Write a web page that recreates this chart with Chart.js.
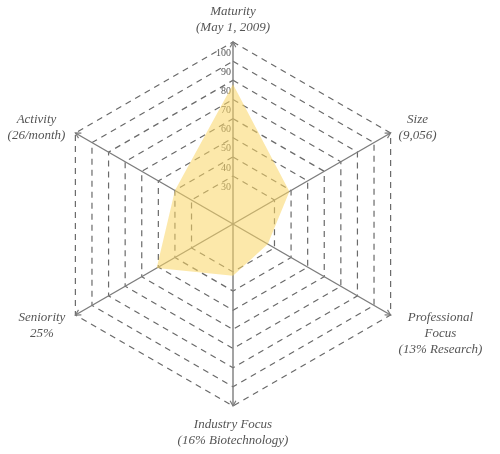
<!DOCTYPE html>
<html>
<head>
<meta charset="utf-8">
<script src="https://cdn.jsdelivr.net/npm/chart.js@4"></script>
<style>
  html, body { margin: 0; padding: 0; background: #fff; }
  canvas { display: block; }
</style>
</head>
<body>
<canvas id="radar" width="500" height="454"></canvas>
<script>
// axes, clockwise from the top
const axisLabels = [
    ['Maturity', '(May 1, 2009)'],
    ['Size', '(9,056)'],
    ['Professional', 'Focus', '(13% Research)'],
    ['Industry Focus', '(16% Biotechnology)'],
    ['Seniority', '25%'],
    ['Activity', '(26/month)']
];
const scores = [78, 39, 26, 32, 51, 40];
const tickValues = [20, 30, 40, 50, 60, 70, 80, 90, 100];

const GREY = '#7c7c7c';
const TEXT = '#555555';

// tick numbers sit just left of the vertical axis, under the fill
const tickLabelPlugin = {
    id: 'tickLabels',
    beforeDatasetsDraw(chart) {
        const scale = chart.scales.r;
        const ctx = chart.ctx;
        ctx.save();
        ctx.font = '10px "Liberation Serif", serif';
        ctx.fillStyle = TEXT;
        ctx.textAlign = 'right';
        ctx.textBaseline = 'middle';
        tickValues.slice(1).forEach(function(v) {
            const p = scale.getPointPositionForValue(0, v);
            ctx.fillText(String(v), p.x - 2, p.y + 11);
        });
        ctx.restore();
    },
    afterDraw(chart) {
        const scale = chart.scales.r;
        const ctx = chart.ctx;
        const cx = scale.xCenter, cy = scale.yCenter;
        ctx.save();
        // arrow heads at the end of each axis
        ctx.strokeStyle = GREY;
        ctx.lineWidth = 1.2;
        axisLabels.forEach(function(lbl, i) {
            const tip = scale.getPointPositionForValue(i, scale.max);
            const a = Math.atan2(tip.y - cy, tip.x - cx);
            ctx.beginPath();
            ctx.moveTo(tip.x - 6 * Math.cos(a - 0.5), tip.y - 6 * Math.sin(a - 0.5));
            ctx.lineTo(tip.x, tip.y);
            ctx.lineTo(tip.x - 6 * Math.cos(a + 0.5), tip.y - 6 * Math.sin(a + 0.5));
            ctx.stroke();
        });
        // axis titles, lines centred on each other
        ctx.font = 'italic 13px "Liberation Serif", serif';
        ctx.fillStyle = TEXT;
        ctx.textAlign = 'center';
        ctx.textBaseline = 'middle';
        const lh = 16;
        axisLabels.forEach(function(lines, i) {
            const tip = scale.getPointPositionForValue(i, scale.max);
            const w = Math.max.apply(null, lines.map(function(t) { return ctx.measureText(t).width; }));
            let x = tip.x, y;
            if (Math.abs(tip.x - cx) < 1) {
                y = tip.y < cy ? tip.y - 14 - (lines.length - 1) * lh : tip.y + 19;
            } else {
                x = tip.x > cx ? tip.x + 8 + w / 2 : tip.x - 10 - w / 2;
                y = tip.y < cy ? tip.y - 13 : tip.y + 3;
            }
            lines.forEach(function(t, k) {
                ctx.fillText(t, x, y + k * lh);
            });
        });
        ctx.restore();
    }
};

const ctx = document.getElementById('radar').getContext('2d');
const radarChart = new Chart(ctx, {
    type: 'radar',
    data: {
        labels: axisLabels,
        datasets: [{
            data: scores,
            backgroundColor: 'rgba(250, 214, 100, 0.55)',
            borderWidth: 0,
            pointRadius: 0,
            pointHoverRadius: 0,
            tension: 0
        }]
    },
    options: {
        responsive: false,
        animation: false,
        layout: {
            padding: { top: 42, bottom: 48, left: 40, right: 74 }
        },
        plugins: {
            legend: { display: false },
            tooltip: { enabled: false }
        },
        scales: {
            r: {
                min: 5,
                max: 100,
                afterBuildTicks: function(axis) {
                    axis.ticks = tickValues.map(function(v) { return { value: v }; });
                },
                ticks: { display: false },
                pointLabels: { display: false },
                angleLines: {
                    color: GREY,
                    lineWidth: 1.4
                },
                grid: {
                    color: '#6a6a6a',
                    lineWidth: 1.2
                },
                border: {
                    dash: [6, 5]
                }
            }
        }
    },
    plugins: [tickLabelPlugin]
});
</script>
</body>
</html>
